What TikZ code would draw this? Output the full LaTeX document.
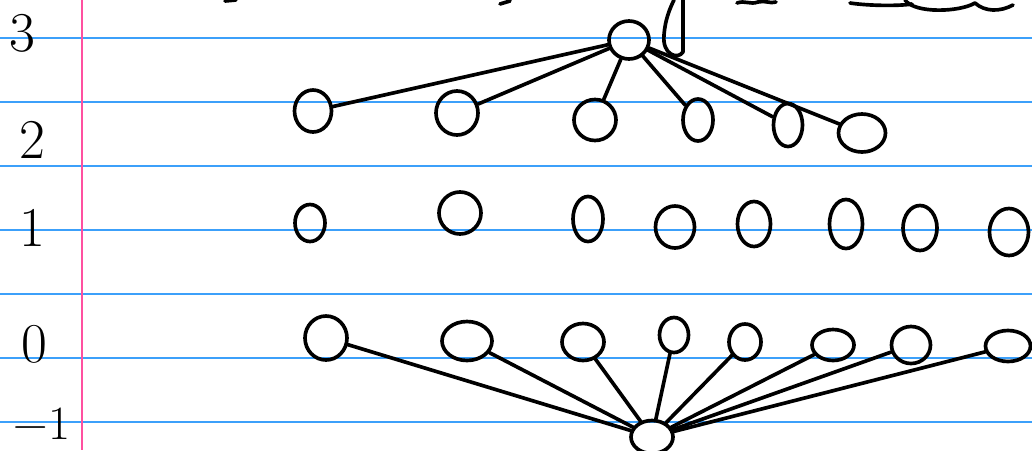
\documentclass[tikz,border=0pt]{standalone}
\usepackage{fontspec}
\usetikzlibrary{shapes.geometric}

\definecolor{ruleblue}{RGB}{60,160,250}
\definecolor{marginpink}{RGB}{255,80,160}

\def\pw{0.025cm}

\begin{document}
\begin{tikzpicture}[x=0.025cm,y=-0.025cm,
  ink/.style={line width=2.6pt,line cap=round,line join=round},
  vtx/.style={ink,draw,ellipse,inner sep=0pt},
  edge/.style={ink},
  rule/.style={ruleblue,line width=1pt},
  lbl/.style={font=\fontsize{40}{40}\selectfont,inner sep=0pt}]
  \useasboundingbox (0,0) rectangle (1032,450);
  \clip (0,0) rectangle (1032,450);

  % paper
  \foreach \y in {38,102,...,422}
    \draw[rule] (0,\y)--(1032,\y);
  \draw[marginpink,line width=1.2pt] (82,0)--(82,450);

  % row numbers
  \node[lbl] (l3) at (22,33) {3};
  \node[lbl] (l2) at (32,140) {2};
  \node[lbl] (l1) at (32,228) {1};
  \node[lbl] (l0) at (34,344) {0};
  \node[lbl,font=\fontsize{34}{34}\selectfont] (lm) at (42,424) {−1};

  % cut-off writing at the top
  \draw[ink] (225,1)--(236,0);
  \draw[ink] (500,4)--(510,1);
  \draw[ink] (683,0)--(683,52) .. controls (678,60) and (662,55) .. (664,35)
    .. controls (665,20) and (670,8) .. (674,0);
  \draw[ink] (737,3) .. controls (745,0) and (750,5) .. (758,2)
    .. controls (765,0) and (770,4) .. (776,2);
  \draw[ink] (850,3) .. controls (870,6) and (900,6) .. (912,4);
  \draw[ink] (905,0) .. controls (915,14) and (960,12) .. (975,3)
    .. controls (985,12) and (1000,12) .. (1013,5);

  % level 3
  \node[vtx,minimum width=40*\pw,minimum height=38*\pw] (t) at (629,40) {};

  % level 2
  \foreach \n/\x/\y/\w/\h in {a1/313/111/37/42, a2/457/113/42/44, a3/595/120/42/41,
      a4/698/120/30/42, a5/788/125/29/43, a6/862/133/47/38}
    \node[vtx,minimum width=\w*\pw,minimum height=\h*\pw] (\n) at (\x,\y) {};

  % level 1
  \foreach \n/\x/\y/\w/\h in {c1/310/223/30/37, c2/460/213/42/42, c3/588/219/30/45,
      c4/675/227/39/42, c5/754/224/33/45, c6/846/224/33/49, c7/920/228/34/45,
      c8/1009/232/39/47}
    \node[vtx,minimum width=\w*\pw,minimum height=\h*\pw] (\n) at (\x,\y) {};

  % level 0
  \foreach \n/\x/\y/\w/\h in {d1/326/338/42/44, d2/467/341/50/39, d3/583/342/42/37,
      d4/674/335/29/35, d5/745/342/32/36, d6/833/345/42/31, d7/911/345/39/37,
      d8/1008/346/45/31}
    \node[vtx,minimum width=\w*\pw,minimum height=\h*\pw] (\n) at (\x,\y) {};

  % level -1
  \node[vtx,minimum width=42*\pw,minimum height=33*\pw] (b) at (652,437) {};

  \foreach \n in {a1,a2,a3,a4,a5,a6}
    \draw[edge] (t)--(\n);
  \foreach \n in {d1,d2,d3,d4,d5,d6,d7,d8}
    \draw[edge] (b)--(\n);
\end{tikzpicture}
\end{document}
